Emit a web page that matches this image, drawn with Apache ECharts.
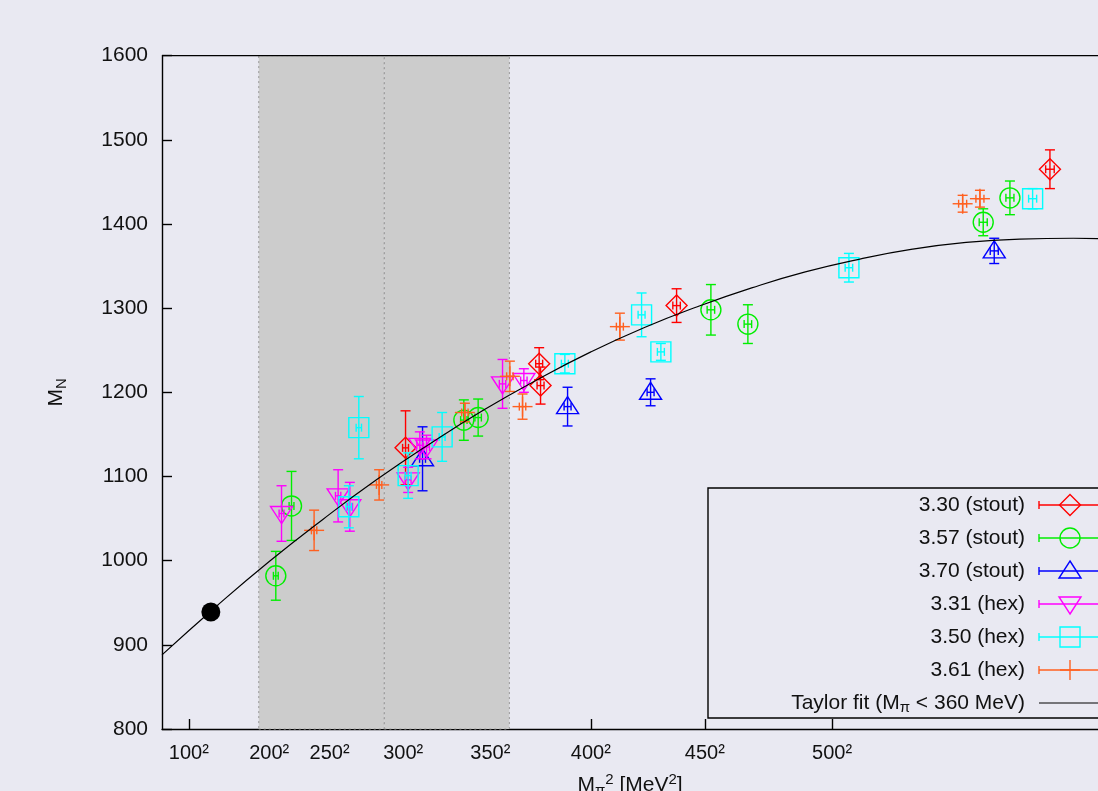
<!DOCTYPE html>
<html>
<head>
<meta charset="utf-8">
<script src="https://cdn.jsdelivr.net/npm/echarts@6/dist/echarts.min.js"></script>
<style>
html, body { margin: 0; padding: 0; background: #e9e9f2; }
#main { width: 1098px; height: 791px; }
</style>
</head>
<body>
<div id="main"></div>
<script>
// x 轴刻度 (M_pi, MeV)，画在 M_pi^2 处
var tickMasses = [100, 200, 250, 300, 350, 400, 450, 500];
// 灰色区域边界 (M_pi, MeV)
var bandEdges = [190, 288, 360];

// 每个点: [M_pi^2, M_N, dM_N, d(M_pi^2)]
var s330stout = [[90860, 1134, 44, 1100], [140710, 1234, 19, 1300], [141230, 1208, 22, 1300],
                 [191980, 1303, 20, 1400], [331270, 1465, 23, 1600]];
var s357stout = [[42460, 982, 29, 900], [48320, 1065, 41, 900], [112610, 1167, 24, 1200],
                 [117950, 1170, 22, 1200], [204780, 1298, 30, 1400], [218580, 1281, 23, 1400],
                 [306380, 1402, 16, 1500], [316340, 1431, 20, 1500]];
var s370stout = [[97200, 1121, 38, 1100], [151310, 1183, 23, 1300], [182280, 1200, 16, 1300],
                 [310490, 1368, 15, 1500]];
var s331hex = [[44590, 1056, 33, 900], [65710, 1077, 31, 1000], [70070, 1064, 29, 1000],
               [91830, 1096, 15, 1100], [96190, 1137, 16, 1100], [98690, 1135, 14, 1100],
               [127050, 1210, 29, 1200], [135000, 1214, 14, 1200]];
var s350hex = [[69700, 1064, 25, 1000], [73430, 1158, 37, 1000], [91830, 1101, 27, 1100],
               [104510, 1147, 29, 1100], [150300, 1234, 11, 1300], [178920, 1292, 26, 1300],
               [186120, 1248, 10, 1300], [256270, 1348, 17, 1400], [324810, 1430, 12, 1500]];
var s361hex = [[56750, 1036, 24, 1000], [81010, 1090, 18, 1000], [112990, 1176, 11, 1200],
               [129780, 1219, 18, 1200], [134510, 1183, 15, 1200], [170820, 1278, 16, 1300],
               [298700, 1424, 10, 1500], [305150, 1430, 10, 1500]];

// 物理点
var physPoint = [[18225, 939]];

// Taylor 拟合曲线
var fitX = [0, 20000, 40000, 60000, 80000, 100000, 120000, 140000, 160000, 180000,
            200000, 220000, 240000, 260000, 280000, 300000, 320000, 340000, 360000];
var fitY = [888, 945, 999, 1049, 1096, 1139, 1179, 1215, 1248, 1277,
            1302, 1324, 1343, 1358, 1370, 1378, 1382, 1383, 1381];

var seriesNames = ['3.30 (stout)', '3.57 (stout)', '3.70 (stout)', '3.31 (hex)', '3.50 (hex)', '3.61 (hex)'];
var seriesData = [s330stout, s357stout, s370stout, s331hex, s350hex, s361hex];
var seriesColors = ['#ff0000', '#00ee00', '#0000ff', '#ff00ff', '#00ffff', '#ff6020'];
var seriesShapes = ['diamond', 'circle', 'triangle', 'triangleDown', 'square', 'plus'];

var FONT = '"Liberation Sans", Arial, sans-serif';
var LW = 1.4;

var main = document.getElementById('main');
var chart = echarts.init(main);

// 画空心符号
function symbolShape(kind, x, y, color) {
    var st = { stroke: color, fill: 'none', lineWidth: LW };
    switch (kind) {
        case 'diamond':
            return { type: 'polygon', shape: { points: [[x, y - 10.5], [x + 10.5, y], [x, y + 10.5], [x - 10.5, y]] }, style: st };
        case 'circle':
            return { type: 'circle', shape: { cx: x, cy: y, r: 10 }, style: st };
        case 'triangle':
            return { type: 'polygon', shape: { points: [[x, y - 10], [x + 11, y + 7], [x - 11, y + 7]] }, style: st };
        case 'triangleDown':
            return { type: 'polygon', shape: { points: [[x, y + 10], [x + 11, y - 7], [x - 11, y - 7]] }, style: st };
        case 'square':
            return { type: 'rect', shape: { x: x - 10, y: y - 10, width: 20, height: 20 }, style: st };
        default:
            return {
                type: 'group', children: [
                    { type: 'line', shape: { x1: x - 10, y1: y, x2: x + 10, y2: y }, style: st },
                    { type: 'line', shape: { x1: x, y1: y - 10, x2: x, y2: y + 10 }, style: st }
                ]
            };
    }
}

// 误差棒 + 符号
function makeRenderItem(kind, color) {
    return function (params, api) {
        var x = api.value(0), y = api.value(1), dy = api.value(2), dx = api.value(3);
        var c = api.coord([x, y]);
        var top = api.coord([x, y + dy])[1];
        var bot = api.coord([x, y - dy])[1];
        var lft = api.coord([x - dx, y])[0];
        var rgt = api.coord([x + dx, y])[0];
        var st = { stroke: color, lineWidth: LW };
        var capY = 5, capX = 4;
        return {
            type: 'group',
            children: [
                { type: 'line', shape: { x1: c[0], y1: top, x2: c[0], y2: bot }, style: st },
                { type: 'line', shape: { x1: c[0] - capY, y1: top, x2: c[0] + capY, y2: top }, style: st },
                { type: 'line', shape: { x1: c[0] - capY, y1: bot, x2: c[0] + capY, y2: bot }, style: st },
                { type: 'line', shape: { x1: lft, y1: c[1], x2: rgt, y2: c[1] }, style: st },
                { type: 'line', shape: { x1: lft, y1: c[1] - capX, x2: lft, y2: c[1] + capX }, style: st },
                { type: 'line', shape: { x1: rgt, y1: c[1] - capX, x2: rgt, y2: c[1] + capX }, style: st },
                symbolShape(kind, c[0], c[1], color)
            ]
        };
    };
}

var series = [];

// 灰色区域
series.push({
    type: 'line',
    data: [],
    z: 1,
    markArea: {
        silent: true,
        itemStyle: { color: '#cccccc', borderColor: '#999999', borderWidth: 1, borderType: [2, 3] },
        data: [
            [{ xAxis: bandEdges[0] * bandEdges[0] }, { xAxis: bandEdges[1] * bandEdges[1] }],
            [{ xAxis: bandEdges[1] * bandEdges[1] }, { xAxis: bandEdges[2] * bandEdges[2] }]
        ]
    }
});

for (var i = 0; i < seriesData.length; i++) {
    series.push({
        type: 'custom',
        name: seriesNames[i],
        z: 3,
        renderItem: makeRenderItem(seriesShapes[i], seriesColors[i]),
        encode: { x: 0, y: 1 },
        data: seriesData[i]
    });
}

series.push({
    type: 'line',
    name: 'Taylor fit',
    z: 4,
    smooth: true,
    showSymbol: false,
    clip: true,
    lineStyle: { color: '#000000', width: 1.2 },
    data: fitX.map(function (x, k) { return [x, fitY[k]]; })
});

series.push({
    type: 'scatter',
    name: 'physical',
    z: 5,
    symbol: 'circle',
    symbolSize: 19,
    itemStyle: { color: '#000000', opacity: 1 },
    data: physPoint
});

// 图例（gnuplot 风格，右下角的框）
var legendChildren = [{
    type: 'rect',
    shape: { x: 708, y: 488, width: 420, height: 230 },
    style: { fill: 'none', stroke: '#000', lineWidth: LW }
}];
var rowY = 505, rowH = 33;
for (var j = 0; j < seriesNames.length; j++) {
    var yy = rowY + j * rowH;
    var col = seriesColors[j];
    legendChildren.push({
        type: 'text', x: 1025, y: yy,
        style: { text: seriesNames[j], align: 'right', verticalAlign: 'middle', font: '21px ' + FONT, fill: '#111' }
    });
    legendChildren.push({ type: 'line', shape: { x1: 1039, y1: yy, x2: 1102, y2: yy }, style: { stroke: col, lineWidth: LW } });
    legendChildren.push({ type: 'line', shape: { x1: 1039, y1: yy - 4, x2: 1039, y2: yy + 4 }, style: { stroke: col, lineWidth: LW } });
    legendChildren.push(symbolShape(seriesShapes[j], 1070, yy, col));
}
var fitRowY = rowY + 6 * rowH;
legendChildren.push({
    type: 'text', x: 1025, y: fitRowY,
    style: {
        text: 'Taylor fit (M{sub|π} < 360 MeV)',
        align: 'right', verticalAlign: 'middle', font: '21px ' + FONT, fill: '#111',
        rich: { sub: { fontSize: 15, fontFamily: FONT, verticalAlign: 'bottom', padding: [10, 0, 0, 0] } }
    }
});
legendChildren.push({ type: 'line', shape: { x1: 1039, y1: fitRowY, x2: 1102, y2: fitRowY }, style: { stroke: '#000', lineWidth: 1 } });

var tickVals = tickMasses.map(function (m) { return m * m; });

var option = {
    backgroundColor: '#e9e9f2',
    animation: false,
    grid: { left: 162, top: 55.6, right: 0, bottom: 62, show: false, outerBoundsMode: 'none', containLabel: false },
    xAxis: {
        type: 'value',
        min: 0,
        max: 349200,
        name: 'M{sub|π}{sup|2} [MeV{sup|2}]',
        nameLocation: 'middle',
        nameGap: 43,
        nameTextStyle: {
            fontSize: 21, fontFamily: FONT, color: '#111', lineHeight: 26,
            rich: {
                sub: { fontSize: 15, fontFamily: FONT, color: '#111', verticalAlign: 'bottom' },
                sup: { fontSize: 15, fontFamily: FONT, color: '#111', verticalAlign: 'top' }
            }
        },
        axisLine: { show: true, onZero: false, lineStyle: { color: '#000', width: LW } },
        axisTick: { show: true, inside: true, length: 10, customValues: tickVals, lineStyle: { color: '#000', width: LW } },
        axisLabel: {
            customValues: tickVals,
            margin: 14,
            fontSize: 20, fontFamily: FONT, color: '#111',
            formatter: function (v) { return Math.round(Math.sqrt(v)) + '²'; }
        },
        splitLine: { show: false }
    },
    yAxis: {
        type: 'value',
        min: 800,
        max: 1600,
        interval: 100,
        name: 'M{sub|N}',
        nameLocation: 'middle',
        nameGap: 93,
        nameRotate: 90,
        nameTextStyle: {
            fontSize: 21, fontFamily: FONT, color: '#111', lineHeight: 26,
            rich: { sub: { fontSize: 15, fontFamily: FONT, color: '#111', verticalAlign: 'bottom' } }
        },
        axisLine: { show: true, lineStyle: { color: '#000', width: LW } },
        axisTick: { show: true, inside: true, length: 10, lineStyle: { color: '#000', width: LW } },
        axisLabel: {
            margin: 14, fontSize: 21, fontFamily: FONT, color: '#111',
            formatter: function (v) { return String(v); }
        },
        splitLine: { show: false }
    },
    graphic: [
        // 上边框
        { type: 'line', shape: { x1: 162, y1: 55.6, x2: 1098, y2: 55.6 }, style: { stroke: '#000', lineWidth: LW }, z: 10 },
        { type: 'group', children: legendChildren, z: 10 }
    ],
    series: series
};

chart.setOption(option);
</script>
</body>
</html>
